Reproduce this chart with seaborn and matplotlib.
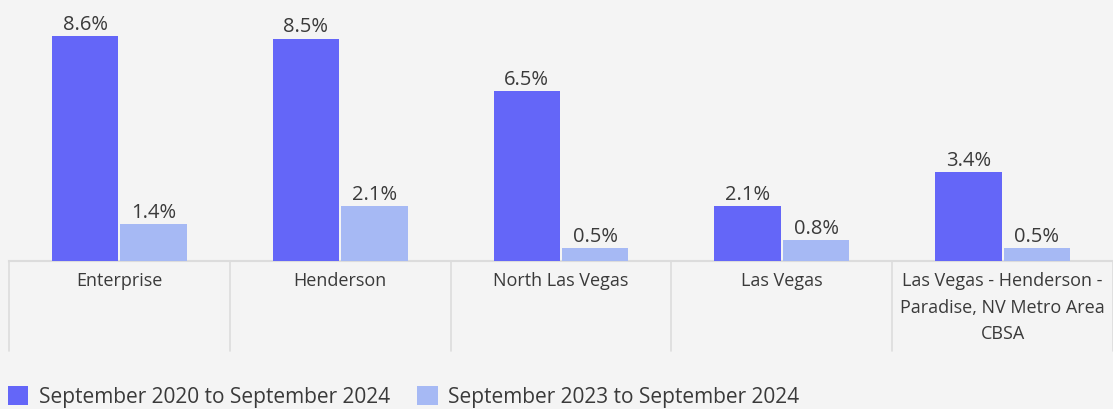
import matplotlib
matplotlib.use("Agg")
import matplotlib.pyplot as plt
import matplotlib.patches as mpatches
import seaborn as sns
import pandas as pd

places = ["Enterprise", "Henderson", "North Las Vegas", "Las Vegas",
          "Las Vegas - Henderson -\nParadise, NV Metro Area\nCBSA"]
periods = ["September 2020 to September 2024", "September 2023 to September 2024"]
growth_2020 = [8.6, 8.5, 6.5, 2.1, 3.4]
growth_2023 = [1.4, 2.1, 0.5, 0.8, 0.5]

colors = ["#6466f8", "#a6b9f4"]
bg = "#f4f4f4"
txt = "#3a3a3a"

df = pd.DataFrame({
    "place": places * 2,
    "period": [periods[0]] * 5 + [periods[1]] * 5,
    "growth": growth_2020 + growth_2023,
})

sns.set_theme(style="white")
plt.rcParams["font.family"] = ["Open Sans", "DejaVu Sans"]

fig = plt.figure(figsize=(11.13, 4.09), dpi=100, facecolor=bg)
ax = fig.add_axes([9 / 1113, 1 - 261 / 409, 1 - 9 / 1113, 261 / 409])
ax.set_facecolor(bg)

sns.barplot(data=df, x="place", y="growth", hue="period", palette=colors,
            width=0.62, gap=0.03, order=places, hue_order=periods,
            ax=ax, legend=False, saturation=1, linewidth=0)

for c in ax.containers:
    ax.bar_label(c, fmt="%.1f%%", padding=1, fontsize=14.5, color=txt)

ax.set_ylim(0, 9.98)
ax.set_xlim(-0.5, 4.5)
ax.set_xlabel("")
ax.set_ylabel("")
ax.set_yticks([])
for s in ["top", "right", "left"]:
    ax.spines[s].set_visible(False)
ax.spines["bottom"].set_color("#dcdcdc")
ax.spines["bottom"].set_linewidth(1.5)
ax.spines["bottom"].set_zorder(0)

ax.tick_params(axis="x", length=0, pad=8, labelsize=13, labelcolor=txt)
for lab in ax.get_xticklabels():
    lab.set_linespacing(1.6)
    lab.set_verticalalignment("top")

tr = ax.get_xaxis_transform()
for xs in [-0.5, 0.5, 1.5, 2.5, 3.5, 4.5]:
    ax.plot([xs, xs], [0, -90 / 261], transform=tr, color="#dcdcdc",
            lw=1.2, clip_on=False)

handles = [mpatches.Patch(facecolor=c, edgecolor="none") for c in colors]
fig.legend(handles, periods, loc="lower left", bbox_to_anchor=(-7 / 1113, -0.032),
           ncol=2, frameon=False, fontsize=15, labelcolor=txt,
           handlelength=1.0, handleheight=1.0, handletextpad=0.5,
           columnspacing=1.3, borderaxespad=0.3)

fig.savefig("out.png", dpi=100, facecolor=bg)
